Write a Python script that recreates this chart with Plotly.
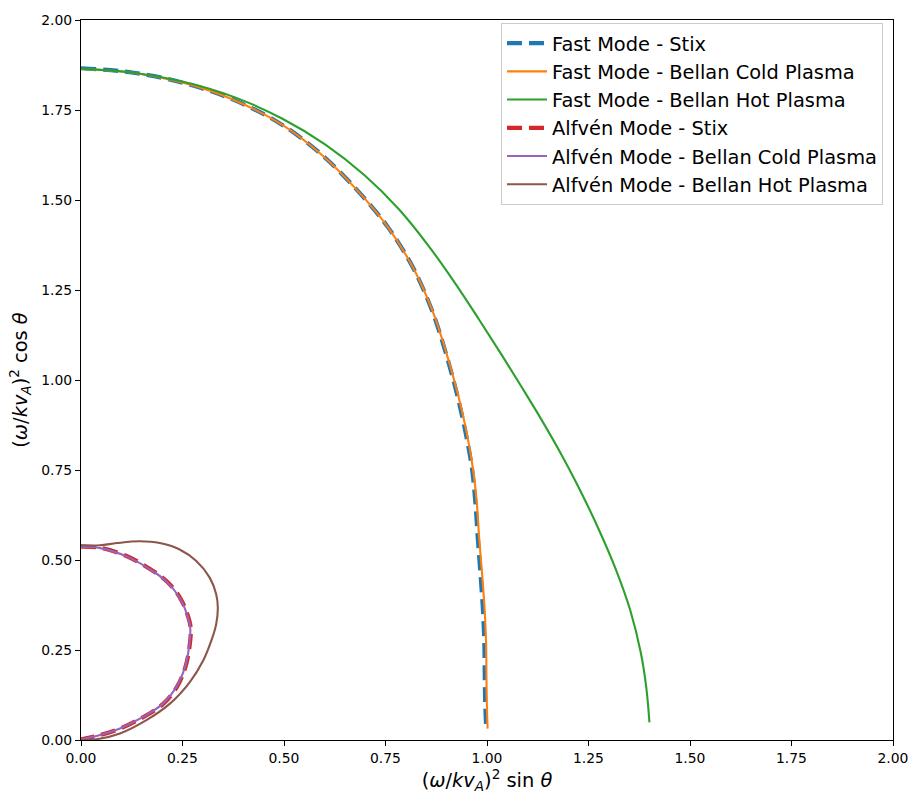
import plotly.graph_objects as go

# ---- data ----
fast_stix_x = [0.0, 0.1296, 0.2564, 0.3778, 0.4909, 0.5920, 0.6801, 0.7568, 0.8187, 0.8650, 0.8990, 0.9260, 0.9470, 0.9630, 0.9715, 0.9770, 0.9840, 0.9900, 0.9935, 0.9945, 0.9955, 0.9975]
fast_stix_y = [1.866, 1.8535, 1.8241, 1.7773, 1.7120, 1.6266, 1.5275, 1.4233, 1.3102, 1.1917, 1.0732, 0.9610, 0.8551, 0.7542, 0.6576, 0.566, 0.4607, 0.3619, 0.2674, 0.1761, 0.1051, 0.045]

fast_cold_x = [0.0, 0.1296, 0.2564, 0.3778, 0.4909, 0.5920, 0.6801, 0.7568, 0.8187, 0.8658, 0.9005, 0.9281, 0.9497, 0.9653, 0.9750, 0.9804, 0.9879, 0.9942, 0.9978, 0.9986, 0.9995, 1.0015]
fast_cold_y = [1.864, 1.8535, 1.8241, 1.7773, 1.7120, 1.6266, 1.5275, 1.4233, 1.3102, 1.1917, 1.0732, 0.9610, 0.8551, 0.7542, 0.6576, 0.566, 0.4607, 0.3619, 0.2674, 0.1761, 0.1051, 0.0315]

fast_hot_x = [0.0, 0.1296, 0.2568, 0.3794, 0.4950, 0.6020, 0.6984, 0.7836, 0.8569, 0.9217, 0.9803, 1.0350, 1.0865, 1.1355, 1.1814, 1.2237, 1.2720, 1.3156, 1.3523, 1.3787, 1.3923, 1.4001]
fast_hot_y = [1.865, 1.8535, 1.8270, 1.7851, 1.7264, 1.6539, 1.5686, 1.4736, 1.3713, 1.2685, 1.1682, 1.0718, 0.9783, 0.8872, 0.7968, 0.7065, 0.5932, 0.4788, 0.3623, 0.2431, 0.1463, 0.0489]

alf_stix_x = [0.0, 0.047, 0.112, 0.170, 0.211, 0.244, 0.262, 0.270, 0.267, 0.257, 0.236, 0.203, 0.154, 0.097, 0.048, 0.0]
alf_stix_y = [0.537, 0.534, 0.511, 0.475, 0.441, 0.395, 0.349, 0.313, 0.257, 0.202, 0.147, 0.101, 0.064, 0.032, 0.014, 0.002]

alf_cold_x = [0.0, 0.047, 0.112, 0.170, 0.210, 0.243, 0.261, 0.269, 0.266, 0.256, 0.235, 0.202, 0.153, 0.096, 0.047, 0.0]
alf_cold_y = [0.536, 0.533, 0.510, 0.474, 0.441, 0.395, 0.349, 0.313, 0.257, 0.202, 0.147, 0.101, 0.064, 0.032, 0.014, 0.002]

alf_hot_x = [0.0, 0.047, 0.088, 0.145, 0.194, 0.243, 0.284, 0.317, 0.333, 0.337, 0.333, 0.321, 0.301, 0.268, 0.219, 0.161, 0.096, 0.038, 0.0]
alf_hot_y = [0.541, 0.541, 0.547, 0.552, 0.547, 0.529, 0.497, 0.451, 0.405, 0.368, 0.322, 0.276, 0.221, 0.161, 0.101, 0.055, 0.018, 0.002, 0.0]

tick_vals = [0.0, 0.25, 0.5, 0.75, 1.0, 1.25, 1.5, 1.75, 2.0]
tick_text = ["0.00", "0.25", "0.50", "0.75", "1.00", "1.25", "1.50", "1.75", "2.00"]

FONT = "DejaVu Sans"

fig = go.Figure()
series = [
    ("Fast Mode - Stix", fast_stix_x, fast_stix_y, "#1f77b4", 4.2, "15px,7px"),
    ("Fast Mode - Bellan Cold Plasma", fast_cold_x, fast_cold_y, "#ff7f0e", 2.1, "solid"),
    ("Fast Mode - Bellan Hot Plasma", fast_hot_x, fast_hot_y, "#2ca02c", 2.1, "solid"),
    ("Alfvén Mode - Stix", alf_stix_x, alf_stix_y, "#d62728", 4.2, "15px,7px"),
    ("Alfvén Mode - Bellan Cold Plasma", alf_cold_x, alf_cold_y, "#9467bd", 2.1, "solid"),
    ("Alfvén Mode - Bellan Hot Plasma", alf_hot_x, alf_hot_y, "#8c564b", 2.1, "solid"),
]
for name, xs, ys, col, w, dash in series:
    fig.add_trace(go.Scatter(x=xs, y=ys, mode="lines", name=name,
                             line=dict(color=col, width=w, dash=dash, shape="spline", smoothing=1.0)))

axis_common = dict(range=[0, 2], tickvals=tick_vals, ticktext=tick_text,
                   showgrid=False, zeroline=False, showline=True, linecolor="black",
                   linewidth=1.1, mirror=True, ticks="outside", ticklen=5, tickwidth=1.1,
                   tickcolor="black", tickfont=dict(family=FONT, size=13.9, color="black"))

fig.update_layout(
    width=920, height=804,
    margin=dict(l=81, r=25, t=15, b=64),
    paper_bgcolor="white", plot_bgcolor="white",
    font=dict(family=FONT, color="black"),
    xaxis=dict(**axis_common,
               title=dict(text="(<i>ω</i>/<i>kv</i><sub><i>A</i></sub>)<sup>2</sup> sin <i>θ</i>",
                          font=dict(family=FONT, size=19.4), standoff=6)),
    yaxis=dict(**axis_common,
               title=dict(text="(<i>ω</i>/<i>kv</i><sub><i>A</i></sub>)<sup>2</sup> cos <i>θ</i>",
                          font=dict(family=FONT, size=19.4), standoff=8)),
    legend=dict(x=0.9877, y=0.9958, xanchor="right", yanchor="top",
                bgcolor="rgba(255,255,255,0.8)", bordercolor="#cccccc", borderwidth=1,
                font=dict(family=FONT, size=19.4, color="black"), itemwidth=40,
                tracegroupgap=0),
    showlegend=True,
)

fig.write_html("out.html")
